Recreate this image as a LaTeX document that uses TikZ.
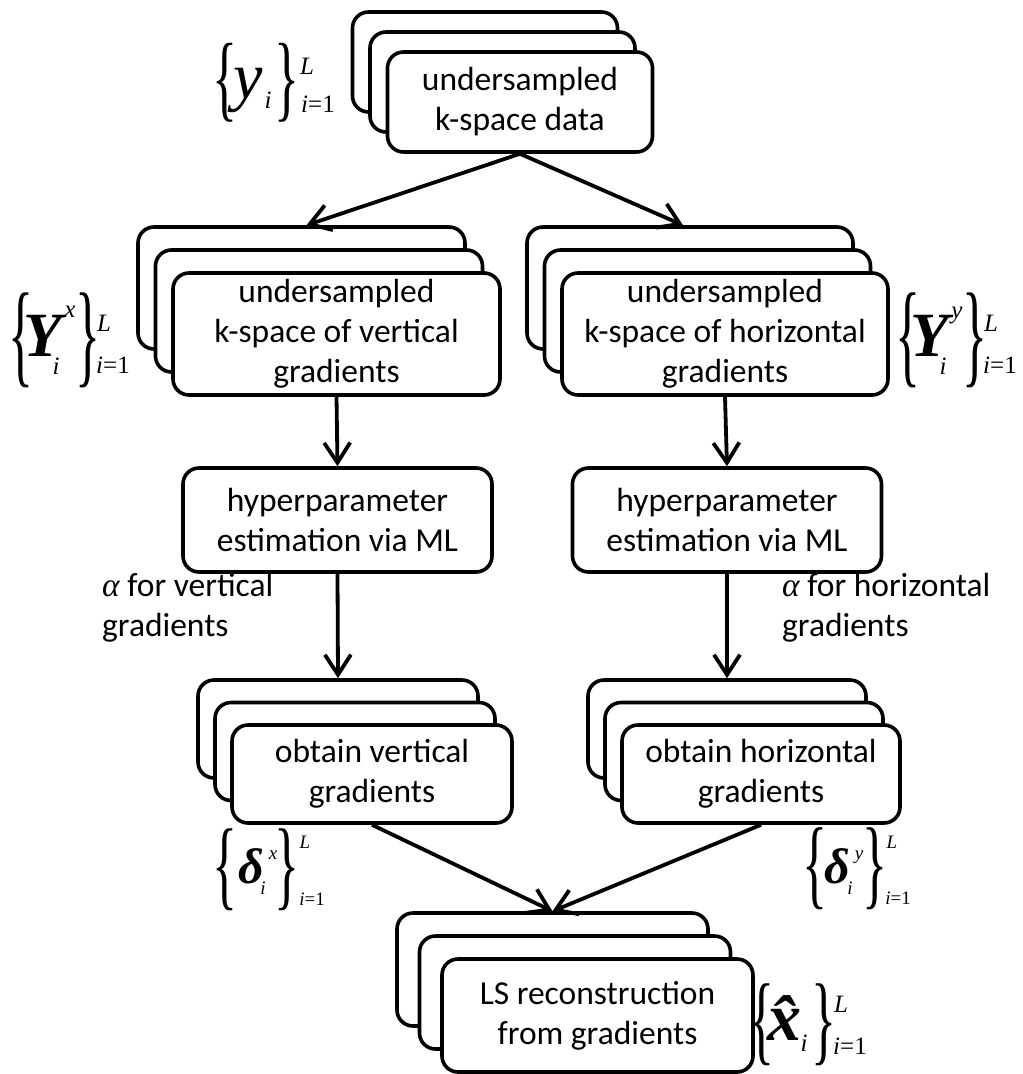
\documentclass[tikz,border=0pt]{standalone}
\usepackage{fontspec}
\usepackage{graphicx}
\usetikzlibrary{arrows.meta}
\newfontfamily\boxfont{Carlito}
\newfontfamily\tms{Liberation Serif}
\newcommand\mylbr[2]{\resizebox*{#1pt}{#2pt}{\tms\{}}
\newcommand\myrbr[2]{\resizebox*{#1pt}{#2pt}{\tms\}}}
\tikzset{
  card/.style={draw, line width=3.6pt, rounded corners=16pt, fill=white, inner sep=0pt},
  txt/.style={font=\boxfont\fontsize{33.5}{40}\selectfont, align=center},
  atxt/.style={font=\boxfont\fontsize{33.5}{40}\selectfont, align=left, inner sep=0pt},
  arr/.style={line width=3.8pt, -{Straight Barb[length=20pt,width=26pt]}},
  mp/.style={inner sep=0pt, outer sep=0pt},
  big/.style={mp, font=\tms\bfseries\itshape\fontsize{63}{63}\selectfont},
  bigy/.style={mp, font=\tms\itshape\fontsize{66}{66}\selectfont},
  sc/.style={mp, font=\tms\itshape\fontsize{25}{25}\selectfont},
  scs/.style={mp, font=\tms\itshape\fontsize{19}{19}\selectfont}
}
% #1 name, #2 x, #3 y, #4 w, #5 h, #6 dx, #7 dy, #8 text
\newcommand\mystack[8]{%
  \node[card, minimum width=#4pt, minimum height=#5pt] (#1b) at ({#2-2*#6},{#3-2*#7}) {};
  \node[card, minimum width=#4pt, minimum height=#5pt] (#1m) at ({#2-#6},{#3-#7}) {};
  \node[card, txt, minimum width=#4pt, minimum height=#5pt] (#1) at (#2,#3) {#8};
}
\begin{document}
\begin{tikzpicture}[x=1pt,y=-1pt]
\useasboundingbox (0,0) rectangle (1023,1074);
\mystack{T}{520}{102}{265}{100}{17.5}{20}{undersampled\\k-space data}
\mystack{L}{336.5}{334}{327}{122}{17.5}{23}{undersampled\\k-space of vertical\\gradients}
\mystack{R}{725}{334}{326}{122}{17.5}{23}{undersampled\\k-space of horizontal\\gradients}
\node[card, txt, minimum width=309pt, minimum height=104pt] (Lh) at (337.5,520) {hyperparameter\\estimation via ML};
\node[card, txt, minimum width=309pt, minimum height=104pt] (Rh) at (727,520) {hyperparameter\\estimation via ML};
\mystack{O}{372}{774}{280}{98}{17}{22.5}{obtain vertical\\gradients}
\mystack{P}{761}{774}{278}{98}{17}{22.5}{obtain horizontal\\gradients}
\mystack{B}{597.5}{1015.5}{311}{113}{22.5}{23}{LS reconstruction\\from gradients}

\draw[arr] (T.south) -- ([xshift=5pt]Lb.north);
\draw[arr] (T.south) -- ([xshift=-7pt]Rb.north);
\draw[arr] (L.south) -- (Lh.north);
\draw[arr] (R.south) -- (Rh.north);
\draw[arr] (Lh.south) -- (Ob.north);
\draw[arr] (Rh.south) -- (Pb.north);
\draw[arr] (O.south) -- (Bb.north);
\draw[arr] (P.south) -- (Bb.north);

\node[atxt, anchor=north west] (av) at (102,573) {{\tms\itshape α} for vertical\\gradients};
\node[atxt, anchor=north west] (ah) at (782,573) {{\tms\itshape α} for horizontal\\gradients};

% {y_i}
\node[mp] (y-lb) at (225,83) {\mylbr{25}{79}};
\node[bigy] (y-b) at (248,90) {y};
\node[sc] (y-s) at (268,100) {i};
\node[mp] (y-rb) at (287,83) {\myrbr{25}{79}};
\node[sc] (y-L) at (307,66) {L};
\node[sc] (y-n) at (318,104) {i\upshape =1};

% {Y^x_i}
\node[mp] (Yx-lb) at (21,340) {\mylbr{25}{95}};
\node[big] (Yx-b) at (43,336) {Y};
\node[sc] (Yx-p) at (70,312) {x};
\node[sc] (Yx-s) at (56,366) {i};
\node[mp] (Yx-rb) at (88,340) {\myrbr{25}{95}};
\node[sc] (Yx-L) at (104,323) {L};
\node[sc] (Yx-n) at (113,365) {i\upshape =1};

% {Y^y_i}
\node[mp] (Yy-lb) at (908,340) {\mylbr{25}{95}};
\node[big] (Yy-b) at (930,336) {Y};
\node[sc] (Yy-p) at (957,315) {y};
\node[sc] (Yy-s) at (943,366) {i};
\node[mp] (Yy-rb) at (975,340) {\myrbr{25}{95}};
\node[sc] (Yy-L) at (991,323) {L};
\node[sc] (Yy-n) at (1000,365) {i\upshape =1};

% {delta^x_i}
\node[mp] (dx-lb) at (225,870) {\mylbr{25}{82}};
\node[mp, font=\tms\bfseries\itshape\fontsize{50}{50}\selectfont] (dx-b) at (251,866) {δ};
\node[scs] (dx-p) at (273,855) {x};
\node[scs] (dx-s) at (263,888) {i};
\node[mp] (dx-rb) at (287,870) {\myrbr{25}{82}};
\node[scs] (dx-L) at (305,842) {L};
\node[scs] (dx-n) at (312,899) {i\upshape =1};

% {delta^y_i}
\node[mp] (dy-lb) at (815,869) {\mylbr{25}{82}};
\node[mp, font=\tms\bfseries\itshape\fontsize{50}{50}\selectfont] (dy-b) at (837,866) {δ};
\node[scs] (dy-p) at (859,857) {y};
\node[scs] (dy-s) at (850,888) {i};
\node[mp] (dy-rb) at (875,869) {\myrbr{25}{82}};
\node[scs] (dy-L) at (892,842) {L};
\node[scs] (dy-n) at (898,898) {i\upshape =1};

% {hat x_i}
\node[mp] (xh-lb) at (762,1025) {\mylbr{25}{82}};
\node[mp, font=\tms\bfseries\itshape\fontsize{68}{68}\selectfont] (xh-b) at (784,1018) {\^{x}};
\node[sc] (xh-s) at (804,1043) {i};
\node[mp] (xh-rb) at (824,1025) {\myrbr{25}{82}};
\node[sc] (xh-L) at (841,1004.5) {L};
\node[sc] (xh-n) at (850,1046) {i\upshape =1};
\end{tikzpicture}
\end{document}
